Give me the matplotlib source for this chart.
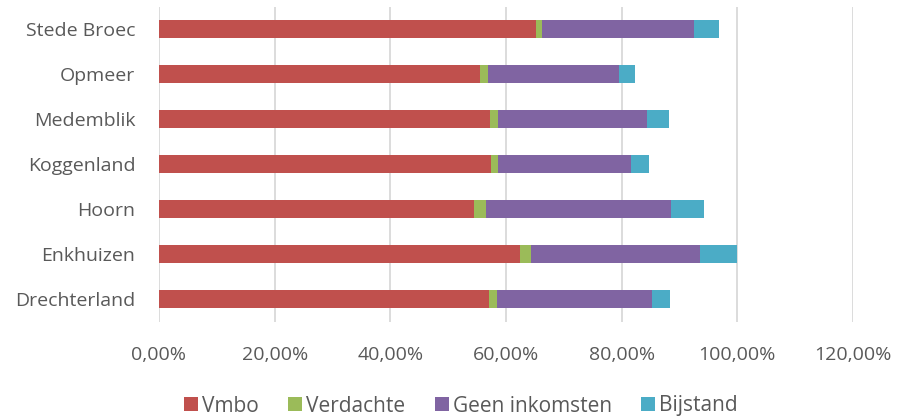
import matplotlib
matplotlib.use("Agg")
from matplotlib import pyplot as plt
import numpy as np

plt.rcParams['font.family'] = ['Open Sans', 'DejaVu Sans']

gemeenten = ['Drechterland', 'Enkhuizen', 'Hoorn', 'Koggenland', 'Medemblik', 'Opmeer', 'Stede Broec']
vmbo = [57.1, 62.5, 54.4, 57.4, 57.3, 55.5, 65.2]
verdachte = [1.3, 1.9, 2.1, 1.2, 1.3, 1.4, 1.1]
geen_inkomsten = [26.9, 29.1, 32.0, 23.0, 25.7, 22.7, 26.2]
bijstand = [3.1, 6.5, 5.7, 3.2, 3.9, 2.7, 4.4]

series = [
    ('Vmbo', vmbo, '#C0504D'),
    ('Verdachte', verdachte, '#9BBB59'),
    ('Geen inkomsten', geen_inkomsten, '#8064A2'),
    ('Bijstand', bijstand, '#4BACC6'),
]

fig = plt.figure(figsize=(8.97, 4.17), dpi=100)
ax = fig.add_axes([159 / 897, 1 - 321.5 / 417, (853 - 159) / 897, 315 / 417])

y = np.arange(len(gemeenten))
left = np.zeros(len(gemeenten))
for naam, waarden, kleur in series:
    w = np.array(waarden) / 100
    ax.barh(y, w, left=left, height=0.4, color=kleur, label=naam, zorder=3)
    left += w

ax.set_xlim(0, 1.2)
ax.set_ylim(-0.5, len(gemeenten) - 0.5)
ax.set_xticks(np.arange(0, 1.21, 0.2))
ax.set_xticklabels([f"{v:.2f}%".replace('.', ',') for v in np.arange(0, 121, 20)])
ax.set_yticks(y)
ax.set_yticklabels(gemeenten)
ax.tick_params(axis='both', length=0, colors='#595959', labelsize=14)
ax.tick_params(axis='x', pad=18)
ax.tick_params(axis='y', pad=17)
for s in ax.spines.values():
    s.set_visible(False)
ax.grid(axis='x', color='#d9d9d9', linewidth=1.3, zorder=0)
ax.set_axisbelow(True)

leg = fig.legend(loc='center', bbox_to_anchor=(461 / 897, 1 - 406 / 417), ncol=4, frameon=False,
                 fontsize=15, handlelength=0.67, handleheight=0.67, handletextpad=0.2,
                 columnspacing=1.4, borderpad=0)
for t in leg.get_texts():
    t.set_color('#595959')

fig.savefig('out.png', dpi=100)
